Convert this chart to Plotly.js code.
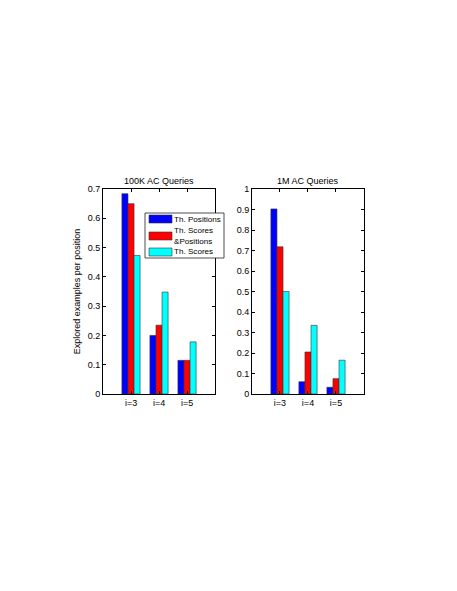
<!DOCTYPE html>
<html><head><meta charset="utf-8">
<script src="https://cdn.plot.ly/plotly-3.0.1.min.js"></script>
<style>body{margin:0;background:#fff}#c{width:457px;height:591px}</style>
</head><body><div id="c"></div>
<script>
const categories = [1, 2, 3];
const tickLabels = ['i=3', 'i=4', 'i=5'];
const seriesNames = ['Th. Positions', 'Th. Scores<br>&Positions', 'Th. Scores'];
const seriesColors = ['#0000ff', '#ff0000', '#00ffff'];
const q100kPositions = [0.684, 0.200, 0.115];
const q100kScoresPositions = [0.650, 0.235, 0.115];
const q100kScores = [0.473, 0.348, 0.178];
const q1mPositions = [0.903, 0.060, 0.033];
const q1mScoresPositions = [0.718, 0.205, 0.075];
const q1mScores = [0.500, 0.335, 0.165];
const titles = ['100K AC Queries', '1M AC Queries'];
const yTitle = 'Explored examples per position';

const left = [q100kPositions, q100kScoresPositions, q100kScores];
const right = [q1mPositions, q1mScoresPositions, q1mScores];
const traces = [];
left.forEach((v, i) => traces.push({type:'bar', x:categories, y:v, name:seriesNames[i],
  marker:{color:seriesColors[i], line:{color:'#333', width:0.6}}, xaxis:'x', yaxis:'y', showlegend:false}));
right.forEach((v, i) => traces.push({type:'bar', x:categories, y:v, name:seriesNames[i],
  marker:{color:seriesColors[i], line:{color:'#333', width:0.6}}, xaxis:'x2', yaxis:'y2', showlegend:false}));

const font = {family:'Liberation Sans, Arial, sans-serif', size:9, color:'#000'};
const lfont = {family:'Liberation Sans, Arial, sans-serif', size:8.1, color:'#000'};
const ax = {showline:true, mirror:'ticks', linecolor:'#000', linewidth:1, ticks:'inside', ticklen:3,
  tickcolor:'#000', showgrid:false, zeroline:false, tickfont:font};

// legend drawn in paper pixels
const W = 457, H = 591;
const px = x => x / W, py = y => 1 - y / H;
const shapes = [{type:'rect', xref:'paper', yref:'paper', x0:px(145), x1:px(224), y0:py(213), y1:py(258),
  fillcolor:'#fff', line:{color:'#222', width:0.8}, layer:'above'}];
const annotations = [
  {text:titles[0], xref:'paper', yref:'paper', x:(0.2254+0.4705)/2, y:0.6802, yanchor:'bottom', xanchor:'center', showarrow:false, font:font, yshift:1},
  {text:titles[1], xref:'paper', yref:'paper', x:(0.5514+0.7965)/2, y:0.6802, yanchor:'bottom', xanchor:'center', showarrow:false, font:font, yshift:1}
];
const swY = [[215,223],[232,240],[248,256]];
const txY = [219, 236, 252];
seriesNames.forEach((n, i) => {
  shapes.push({type:'rect', xref:'paper', yref:'paper', x0:px(149), x1:px(172), y0:py(swY[i][0]), y1:py(swY[i][1]),
    fillcolor:seriesColors[i], line:{color:'#333', width:0.6}, layer:'above'});
  annotations.push({text:n, xref:'paper', yref:'paper', x:px(172.5), y:py(txY[i]), xanchor:'left', yanchor:'middle',
    align:'left', showarrow:false, font:lfont, borderpad:0});
});

const layout = {
  width:W, height:H, margin:{l:0,r:0,t:0,b:0}, paper_bgcolor:'#fff', plot_bgcolor:'#fff',
  font:font, barmode:'group', bargap:0.35, bargroupgap:0, showlegend:false,
  xaxis:Object.assign({}, ax, {domain:[0.2254,0.4705], range:[0,4], tickvals:categories, ticktext:tickLabels, anchor:'y'}),
  yaxis:Object.assign({}, ax, {domain:[0.3333,0.6802], range:[0,0.7], dtick:0.1, anchor:'x',
    title:{text:yTitle, font:font, standoff:5}}),
  xaxis2:Object.assign({}, ax, {domain:[0.5514,0.7965], range:[0,4], tickvals:categories, ticktext:tickLabels, anchor:'y2'}),
  yaxis2:Object.assign({}, ax, {domain:[0.3333,0.6802], range:[0,1], dtick:0.1, anchor:'x2'}),
  shapes:shapes, annotations:annotations
};
Plotly.newPlot('c', traces, layout, {displayModeBar:false, staticPlot:true});
</script></body></html>
